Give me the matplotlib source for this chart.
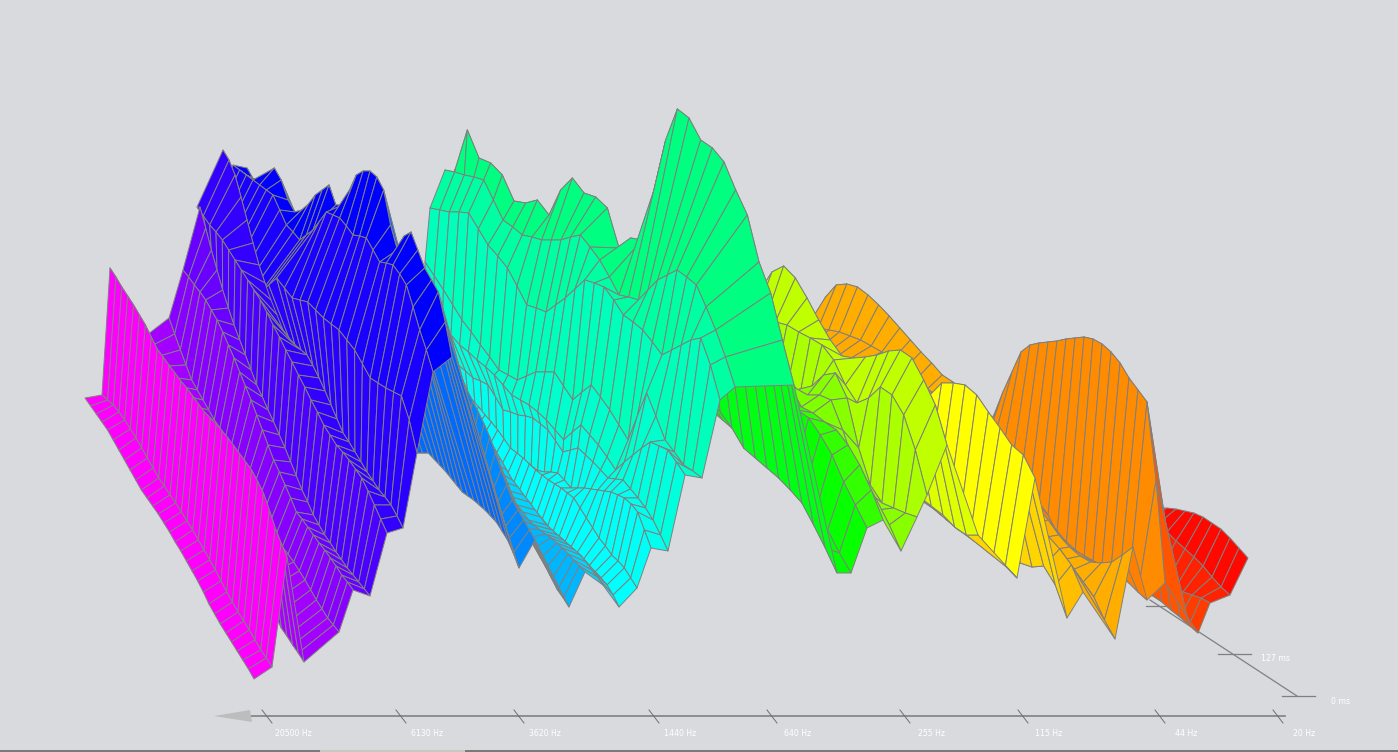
import numpy as np
import matplotlib
matplotlib.use('Agg')
import matplotlib.pyplot as plt
from matplotlib.collections import PolyCollection
from matplotlib.colors import hsv_to_rgb

BG = '#d8dadd'
WIRE = '#808080'

# position of each band on the frequency axis at 0 ms, how far it runs back, and its hue
band_pos = [254, 272, 287, 304, 339, 353, 370, 387, 403, 417, 433, 452,
            519, 535, 569, 585, 603, 619, 637, 651, 668, 685, 702, 720, 735, 794,
            837, 851, 867, 883, 901, 917, 927, 947, 978, 1017, 1035, 1067, 1083, 1115, 1133,
            1147, 1165, 1198, 1210, 1230, 1248]
band_span = [169, 170, 177, 170, 170, 170, 170, 190, 180, 234, 200, 205,
             170, 170, 170, 170, 170, 180, 190, 200, 225, 260, 277, 290, 290, 350,
             350, 350, 350, 350, 350, 350, 350, 350, 350, 350, 350, 350, 350, 318, 318,
             270, 270, 270, 270, 270, 270]
band_hue = [300, 300, 300, 280, 278, 272, 265, 258, 252, 250, 246, 240,
            215, 208, 200, 197, 190, 185, 180, 178, 176, 172, 168, 164, 158, 150,
            125, 120, 118, 108, 90, 88, 80, 75, 68, 50, 60, 50, 45, 40, 41,
            30, 33, 20, 14, 8, 2]

# level below the reference for each band, from 0 ms to the last slice
magenta_bands = [
    [679, 669, 660, 651, 642, 633, 624, 614, 604, 592, 581, 571, 561, 551, 542, 532, 523, 514, 506, 498, 490, 480, 470, 460, 450, 440, 430, 422, 414, 406, 398],
    [667, 658, 650, 640, 630, 621, 612, 602, 592, 581, 570, 560, 550, 540, 530, 521, 512, 503, 495, 486, 478, 468, 458, 448, 438, 429, 420, 412, 405, 400, 395],
    [557, 543, 528, 510, 493, 481, 470, 462, 454, 446, 438, 431, 424, 418, 412, 404, 396, 388, 381, 373, 365, 357, 349, 337, 325, 315, 305, 296, 287, 277, 268],
]
purple_bands = [
    [662, 653, 645, 636, 628, 616, 605, 592, 580, 567, 555, 542, 530, 517, 505, 492, 480, 467, 455, 442, 430, 420, 410, 401, 392, 383, 375, 367, 360, 352, 345],
    [632, 625, 618, 609, 600, 590, 580, 571, 562, 554, 547, 533, 520, 508, 497, 486, 475, 465, 455, 446, 437, 428, 420, 410, 400, 390, 380, 365, 350, 334, 318],
    [590, 582, 575, 566, 558, 550, 543, 535, 527, 519, 512, 498, 485, 472, 460, 445, 430, 415, 400, 386, 372, 358, 345, 332, 320, 310, 300, 292, 285, 277, 270],
    [596, 589, 582, 575, 568, 560, 552, 543, 535, 525, 515, 502, 490, 476, 462, 448, 435, 422, 410, 397, 385, 370, 355, 340, 325, 308, 290, 270, 250, 228, 207],
    [533, 519, 505, 491, 478, 469, 460, 452, 445, 435, 425, 412, 400, 387, 375, 362, 350, 337, 325, 312, 300, 290, 280, 270, 260, 250, 240, 232, 225, 216, 207],
]
blue_bands = [
    [528, 516, 505, 497, 490, 481, 472, 462, 452, 442, 433, 419, 405, 391, 378, 366, 355, 350, 345, 338, 330, 315, 300, 283, 265, 243, 220, 197, 175, 160, 150],
    [453, 420, 396, 392, 388, 383, 378, 364, 350, 340, 330, 324, 318, 310, 302, 300, 298, 288, 278, 285, 292, 290, 288, 284, 280, 276, 272, 274, 275, 274, 273],
    [372, 350, 330, 307, 285, 274, 265, 263, 262, 250, 238, 236, 235, 226, 218, 215, 212, 221, 230, 235, 240, 232, 225, 210, 195, 190, 185, 180, 175, 170, 165],
    [357, 322, 292, 280, 268, 250, 232, 236, 250, 225, 190, 177, 171, 171, 175, 190, 205, 205, 185, 190, 195, 204, 210, 212, 200, 180, 168, 172, 182, 180, 168],
]
azure_bands = [
    [568, 553, 540, 531, 522, 516, 510, 505, 500, 496, 492, 485, 478, 471, 465, 459, 453, 453, 453, 449, 445, 437, 430, 422, 415, 407, 400, 392, 385, 377, 370],
    [540, 530, 520, 510, 500, 485, 470, 453, 437, 424, 412, 401, 390, 377, 365, 355, 345, 332, 320, 310, 300, 290, 280, 270, 260, 255, 250, 245, 240, 237, 235],
    [607, 598, 590, 579, 568, 558, 548, 538, 528, 519, 510, 500, 490, 480, 470, 460, 450, 440, 430, 420, 410, 400, 390, 380, 370, 360, 350, 342, 335, 327, 320],
    [572, 566, 560, 554, 548, 543, 538, 534, 530, 525, 520, 512, 505, 497, 490, 480, 470, 460, 450, 440, 430, 420, 410, 402, 395, 387, 380, 372, 365, 357, 350],
    [585, 577, 570, 562, 555, 550, 545, 540, 535, 530, 525, 517, 510, 502, 495, 487, 480, 470, 460, 450, 440, 430, 420, 410, 400, 392, 385, 377, 370, 362, 355],
]
cyan_bands = [
    [607, 595, 585, 578, 572, 566, 560, 553, 547, 542, 537, 532, 528, 523, 518, 511, 505, 497, 490, 480, 470, 460, 450, 440, 430, 420, 410, 397, 385, 375, 365],
    [588, 578, 568, 561, 555, 546, 538, 528, 518, 508, 498, 493, 488, 484, 480, 475, 470, 464, 458, 453, 448, 439, 430, 422, 415, 407, 400, 392, 385, 372, 360],
    [548, 530, 512, 504, 498, 495, 492, 491, 490, 489, 488, 488, 488, 480, 473, 472, 472, 471, 471, 470, 470, 469, 468, 464, 460, 450, 440, 425, 410, 392, 375],
    [551, 535, 520, 508, 498, 489, 480, 479, 478, 470, 462, 455, 448, 450, 452, 441, 430, 424, 418, 416, 415, 412, 410, 397, 385, 381, 378, 371, 365, 361, 358],
    [475, 462, 450, 446, 442, 448, 455, 462, 470, 457, 445, 435, 425, 432, 440, 430, 420, 412, 405, 400, 395, 385, 375, 367, 360, 352, 345, 335, 325, 312, 300],
    [478, 471, 465, 452, 440, 416, 393, 416, 440, 425, 410, 397, 385, 392, 400, 386, 372, 372, 372, 376, 380, 375, 370, 357, 345, 332, 320, 305, 290, 276, 262],
]
teal_bands = [
    [400, 365, 338, 340, 345, 350, 355, 342, 330, 322, 315, 300, 287, 283, 280, 289, 298, 305, 312, 308, 305, 286, 268, 256, 245, 229, 213, 212, 212, 210, 208],
    [387, 357, 330, 307, 285, 277, 270, 275, 280, 290, 300, 297, 295, 277, 260, 247, 235, 237, 240, 240, 240, 237, 235, 227, 220, 200, 180, 177, 175, 172, 170],
    [385, 340, 293, 262, 215, 190, 162, 148, 140, 118, 109, 140, 190, 240, 238, 248, 208, 197, 193, 178, 190, 215, 200, 203, 201, 175, 163, 158, 130, 168, 195],
]
green_bands = [
    [573, 548, 525, 503, 490, 478, 468, 458, 448, 428, 412, 400, 395, 390, 390, 388, 386, 385, 385, 385,
     385, 385, 385, 385, 385, 385, 385, 385, 385, 385, 385],
    [573, 553, 530, 510, 490, 480, 470, 460, 450, 440, 430, 420, 410, 400, 395, 392, 390, 390, 390, 390,
     390, 390, 390, 390, 390, 390, 390, 390, 390, 390, 390],
    [528, 505, 482, 455, 435, 418, 410, 400, 395, 390, 385, 384, 392, 405, 405, 400, 395, 395, 395, 395,
     395, 395, 395, 395, 395, 395, 395, 395, 395, 395, 395],
    [520, 490, 465, 445, 430, 422, 413, 407, 385, 352, 325, 302, 285, 270, 280, 300, 300, 300, 300, 300,
     300, 300, 300, 300, 300, 300, 300, 300, 300, 300, 300],
]
lime_bands = [
    [551, 525, 510, 490, 465, 430, 400, 395, 395, 390, 385, 382, 380, 380, 380, 380, 380, 380, 380, 380,
     380, 380, 380, 380, 380, 380, 380, 380, 380, 380, 380],
    [517, 513, 508, 503, 485, 448, 398, 373, 375, 386, 393, 380, 375, 375, 375, 375, 375, 375, 375, 375,
     375, 375, 375, 375, 375, 375, 375, 375, 375, 375, 375],
    [495, 450, 415, 395, 387, 398, 403, 385, 360, 345, 338, 332, 325, 322, 325, 325, 325, 325, 325, 325,
     325, 325, 325, 325, 325, 325, 325, 325, 325, 325, 325],
    [445, 405, 380, 358, 350, 351, 355, 357, 358, 356, 340, 320, 298, 278, 266, 272, 290, 300, 300, 300,
     300, 300, 300, 300, 300, 300, 300, 300, 300, 300, 300],
]
yellow_bands = [
    [535, 535, 527, 515, 506, 497, 485, 472, 460, 445, 430, 415, 402, 390, 390, 390, 390, 390, 390, 390,
     380, 380, 380, 380, 380, 380, 380, 380, 380, 380, 380],
    [578, 566, 555, 540, 535, 530, 520, 510, 502, 490, 480, 470, 458, 448, 438, 420, 410, 400, 390, 380,
     380, 380, 380, 380, 380, 380, 380, 380, 380, 380, 380],
    [478, 455, 445, 428, 412, 395, 385, 383, 383, 395, 405, 410, 415, 410, 400, 390, 380, 380, 380, 380,
     380, 380, 380, 380, 380, 380, 380, 380, 380, 380, 380],
    [618, 585, 566, 567, 563, 550, 535, 520, 505, 490, 475, 462, 450, 440, 430, 415, 400, 390, 380, 380,
     380, 380, 380, 380, 380, 380, 380, 380, 380, 380, 380],
]
amber_bands = [
    [592, 565, 549, 536, 521, 506, 492, 477, 462, 448, 433, 418, 402, 392, 382, 380, 380, 380, 380, 380,
     380, 380, 380, 380, 380, 380, 380, 380, 380, 380, 380],
    [639, 620, 597, 582, 570, 560, 550, 538, 525, 512, 500, 487, 473, 458, 443, 425, 412, 402, 392, 382,
     370, 360, 352, 346, 340, 336, 332, 330, 328, 326, 325],
    [547, 555, 562, 563, 562, 556, 547, 535, 520, 507, 495, 480, 465, 448, 430, 410, 392, 382, 375, 363,
     352, 340, 328, 316, 305, 295, 287, 284, 285, 297, 318],
]
orange_bands = [
    [600, 592, 583, 575, 569, 565, 561, 558, 553, 548, 533, 515, 503, 490, 478, 465, 450, 440, 445, 450,
     450, 450, 450, 450, 445, 445, 445, 440, 440, 440, 440],
    [583, 480, 402, 390, 378, 363, 352, 344, 339, 337, 338, 339, 341, 342, 343, 345, 352, 372, 392, 415,
     430, 435, 440, 440, 440, 440, 440, 440, 440, 440, 440],
]
red_bands = [
    [633, 625, 617, 610, 602, 596, 590, 584, 578, 574, 571, 565, 560, 555, 550, 545, 540, 535, 530, 525,
     520, 500, 490, 480, 470, 460, 450, 450, 440, 440, 440],
    [603, 598, 595, 592, 590, 585, 580, 574, 566, 560, 552, 545, 540, 535, 530, 525, 520, 515, 510, 505,
     500, 490, 480, 470, 460, 450, 450, 440, 440, 440, 440],
    [595, 587, 577, 566, 557, 549, 541, 532, 524, 519, 515, 512, 510, 510, 510, 510, 510, 510, 510, 510,
     500, 490, 480, 470, 460, 450, 450, 440, 440, 440, 440],
    [558, 548, 538, 529, 523, 517, 513, 511, 509, 508, 508, 508, 510, 510, 510, 510, 510, 510, 510, 510,
     500, 490, 480, 470, 460, 450, 450, 440, 440, 440, 440],
]

freq_labels = ['20500 Hz', '6130 Hz', '3620 Hz', '1440 Hz', '640 Hz', '255 Hz', '115 Hz', '44 Hz', '20 Hz']
freq_ticks = [267, 401, 519, 654, 772, 905, 1023, 1160, 1278]
time_labels = ['0 ms', '127 ms', '']
time_ticks = [0.0, 0.47, 1.0]


def build_faces(levels):
    # one quad per band pair and slice, far right and far back first so nearer ones paint over
    pos = np.array(band_pos, dtype=float)
    span = np.array(band_span, dtype=float)
    n_bands, n_slices = levels.shape
    depth = np.linspace(0, 1, n_slices)
    xs = pos[:, None] - span[:, None] * depth[None, :]
    faces = []
    colors = []
    for c in range(n_bands - 2, -1, -1):
        rgb = hsv_to_rgb((band_hue[c + 1] / 360.0, 1, 1))
        for j in range(n_slices - 2, -1, -1):
            faces.append([(xs[c, j], levels[c, j]), (xs[c + 1, j], levels[c + 1, j]),
                          (xs[c + 1, j + 1], levels[c + 1, j + 1]), (xs[c, j + 1], levels[c, j + 1])])
            colors.append(rgb)
    return faces, colors


def draw_axes(ax):
    ax.plot([1285, 240], [716, 716], color='#808080', lw=1.2, zorder=1)
    ax.fill([214, 250, 252], [716, 710, 722], color='#bdbdbd', lw=0, zorder=1)
    for x, label in zip(freq_ticks, freq_labels):
        ax.plot([x - 5, x + 5], [710, 723], color='#707070', lw=0.7, zorder=1)
        ax.text(x + 26, 733.5, label, color='white', fontsize=5.6, ha='center', va='center')
    # time axis
    ax.plot([1297, 1150], [696, 600], color='#808080', lw=0.9, zorder=1)
    for d, label in zip(time_ticks, time_labels):
        y = 696 - 90 * d
        x = 1298 - 136 * d
        ax.plot([x - 16, x + 17], [y, y], color='#808080', lw=0.9, zorder=1)
        if label:
            ax.text(x + 43 - 3 * d, y + 5, label, color='white', fontsize=5.6, ha='center', va='center')
    # strip along the bottom edge of the window
    ax.fill_between([0, 1398], 750, 752, color='#7a7a7a', lw=0, zorder=1)
    ax.fill_between([320, 465], 750, 752, color='#c8c8c0', lw=0, zorder=1)


def main():
    levels = np.array(magenta_bands + purple_bands + blue_bands + azure_bands + cyan_bands
                      + teal_bands + green_bands + lime_bands + yellow_bands + amber_bands
                      + orange_bands + red_bands, dtype=float)

    fig = plt.figure(figsize=(13.98, 7.52), dpi=100, facecolor=BG)
    ax = fig.add_axes([0, 0, 1, 1])
    ax.set_xlim(0, 1398)
    ax.set_ylim(752, 0)
    ax.axis('off')

    draw_axes(ax)

    faces, colors = build_faces(levels)
    mesh = PolyCollection(faces, facecolors=colors, edgecolors=WIRE, linewidths=0.7, zorder=3)
    ax.add_collection(mesh)

    fig.savefig('out.png', dpi=100, facecolor=BG)


if __name__ == '__main__':
    main()
